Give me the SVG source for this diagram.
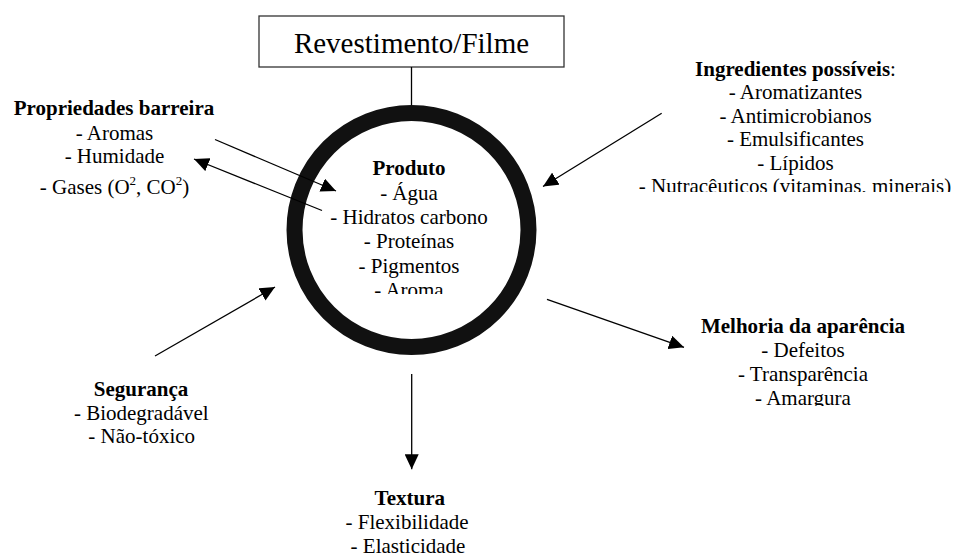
<svg xmlns="http://www.w3.org/2000/svg" width="956" height="554" viewBox="0 0 956 554">
<style>
text{font-family:"Liberation Serif","Times New Roman",serif;font-size:21px;fill:#000;text-anchor:middle}
.b{font-weight:bold}
.title{font-size:29px}
.sup{font-size:13px}
.conn line,.conn path{stroke:#000;stroke-width:1.3;fill:none}
.arr{marker-end:url(#ah)}
</style>
<defs>
<marker id="ah" viewBox="0 0 15 14" refX="15" refY="7" markerWidth="15" markerHeight="14" markerUnits="userSpaceOnUse" orient="auto">
<path d="M0,0 L15,7 L0,14 z" fill="#000"/>
</marker>
<clipPath id="clipProd"><rect x="300" y="150" width="230" height="144"/></clipPath>
<clipPath id="clipIng"><rect x="600" y="50" width="356" height="142"/></clipPath>
<clipPath id="clipMel"><rect x="640" y="300" width="316" height="106"/></clipPath>
</defs>
<rect width="956" height="554" fill="#fff"/>
<g id="revestimento">
<rect x="259" y="16" width="305" height="51" fill="#fff" stroke="#333" stroke-width="1.3"/>
<text class="title" x="411.5" y="52.5">Revestimento/Filme</text>
</g>
<g id="produto">
<circle cx="411.5" cy="230" r="117" fill="none" stroke="#111" stroke-width="16"/>
<g clip-path="url(#clipProd)">
<text x="409" y="175" class="b">Produto</text>
<text x="409" y="200">- Água</text>
<text x="409" y="224">- Hidratos carbono</text>
<text x="409" y="248.3">- Proteínas</text>
<text x="409" y="272.6">- Pigmentos</text>
<text x="409" y="297">- Aroma</text>
</g>
</g>
<g id="propriedades">
<text x="114" y="115" class="b">Propriedades barreira</text>
<text x="114.5" y="140">- Aromas</text>
<text x="114.5" y="163.3">- Humidade</text>
<text x="114.5" y="194">- Gases (O<tspan class="sup" dy="-9">2</tspan><tspan dy="9">, CO</tspan><tspan class="sup" dy="-9">2</tspan><tspan dy="9">)</tspan></text>
</g>
<g id="ingredientes" clip-path="url(#clipIng)">
<text x="795.5" y="75.5"><tspan class="b">Ingredientes possíveis</tspan>:</text>
<text x="795.5" y="99">- Aromatizantes</text>
<text x="795.5" y="122.5">- Antimicrobianos</text>
<text x="795.5" y="146">- Emulsificantes</text>
<text x="795.5" y="169.5">- Lípidos</text>
<text x="795" y="193">- Nutracêuticos (vitaminas, minerais)</text>
</g>
<g id="melhoria" clip-path="url(#clipMel)">
<text x="803" y="332.7" class="b">Melhoria da aparência</text>
<text x="803" y="356.7">- Defeitos</text>
<text x="803" y="380.7">- Transparência</text>
<text x="803" y="405">- Amargura</text>
</g>
<g id="seguranca">
<text x="141" y="396" class="b">Segurança</text>
<text x="141.3" y="420">- Biodegradável</text>
<text x="141.7" y="443.3">- Não-tóxico</text>
</g>
<g id="textura">
<text x="409.8" y="505" class="b">Textura</text>
<text x="407" y="529.3">- Flexibilidade</text>
<text x="408" y="553">- Elasticidade</text>
</g>
<g id="connectors" class="conn">
<line x1="411.5" y1="67" x2="411.5" y2="105"/>
<line class="arr" x1="215" y1="139.5" x2="336" y2="191"/>
<line class="arr" x1="322" y1="210.5" x2="194" y2="159"/>
<line class="arr" x1="661.7" y1="113.3" x2="543" y2="186.5"/>
<line class="arr" x1="155" y1="356" x2="275" y2="287"/>
<line class="arr" x1="547" y1="299.3" x2="684" y2="347.3"/>
<line class="arr" x1="411.7" y1="374" x2="411.7" y2="469.3"/>
</g>
</svg>
